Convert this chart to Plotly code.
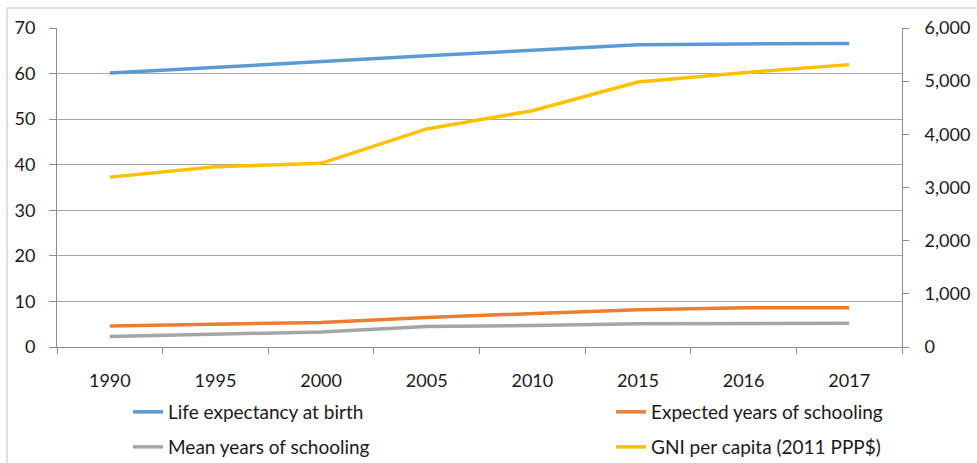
import plotly.graph_objects as go

years = ["1990", "1995", "2000", "2005", "2010", "2015", "2016", "2017"]
life_expectancy = [60.1, 61.4, 62.7, 63.9, 65.1, 66.3, 66.5, 66.6]
expected_schooling = [4.6, 5.0, 5.4, 6.5, 7.4, 8.2, 8.6, 8.6]
mean_schooling = [2.3, 2.8, 3.3, 4.5, 4.7, 5.1, 5.2, 5.2]
gni_per_capita = [3195, 3392, 3454, 4101, 4445, 4985, 5160, 5311]

FONT = "Lato"
TXT = "#1a1a1a"
GRID = "#a6a6a6"
AXIS = "#8c8c8c"

W, H = 977, 463
L, R, T, B = 57, 977 - 902, 28, 463 - 347
pw, ph = W - L - R, H - T - B


def px_x(x):
    return (x - L) / pw


def px_y(y):
    return (H - B - y) / ph


fig = go.Figure()
fig.add_trace(go.Scatter(x=years, y=life_expectancy, name="Life expectancy at birth",
                         mode="lines", line=dict(color="#5B9BD5", width=3.5), legend="legend"))
fig.add_trace(go.Scatter(x=years, y=expected_schooling, name="Expected years of schooling",
                         mode="lines", line=dict(color="#ED7D31", width=3.5), legend="legend2"))
fig.add_trace(go.Scatter(x=years, y=mean_schooling, name="Mean years of schooling",
                         mode="lines", line=dict(color="#A5A5A5", width=3.5), legend="legend3"))
fig.add_trace(go.Scatter(x=years, y=gni_per_capita, name="GNI per capita (2011 PPP$)",
                         mode="lines", line=dict(color="#FFC000", width=3.5), legend="legend4",
                         yaxis="y2"))

legend_common = dict(orientation="h", xanchor="left", yanchor="middle",
                     xref="container", yref="container",
                     bgcolor="rgba(0,0,0,0)",
                     font=dict(family=FONT, size=19, color=TXT))


def cx(x):
    return x / W


def cy(y):
    return 1 - y / H


fig.update_layout(
    width=W, height=H,
    margin=dict(l=L, r=R, t=T, b=B, pad=0, autoexpand=False),
    paper_bgcolor="white", plot_bgcolor="white",
    font=dict(family=FONT, size=18, color=TXT),
    showlegend=True,
    legend=dict(x=cx(128), y=cy(412), **legend_common),
    legend2=dict(x=cx(611), y=cy(412), **legend_common),
    legend3=dict(x=cx(128), y=cy(447), **legend_common),
    legend4=dict(x=cx(611), y=cy(447), **legend_common),
    xaxis=dict(type="category", range=[-0.5, 7.5], tickson="boundaries", ticks="outside",
               ticklen=6, tickcolor=AXIS, showline=True, linecolor=AXIS, linewidth=1,
               showgrid=False, ticklabelstandoff=17, tickfont=dict(size=18), automargin=False),
    yaxis=dict(range=[0, 70], dtick=10, showgrid=True, gridcolor=GRID, gridwidth=1,
               ticks="outside", ticklen=7, tickcolor=AXIS, showline=True, linecolor=AXIS,
               zeroline=False, ticklabelstandoff=10, tickfont=dict(size=18), automargin=False),
    yaxis2=dict(range=[0, 6000], dtick=1000, overlaying="y", side="right", showgrid=False,
                ticks="outside", ticklen=6, tickcolor=AXIS, showline=True, linecolor=AXIS,
                zeroline=False, tickformat=",", ticklabelstandoff=12, tickfont=dict(size=18),
                automargin=False),
    shapes=[dict(type="rect", xref="paper", yref="paper",
                 x0=px_x(7), x1=px_x(990), y0=px_y(480), y1=px_y(8),
                 line=dict(color="#bfbfbf", width=1), fillcolor="rgba(0,0,0,0)", layer="below")],
)

fig.write_html("out.html")
